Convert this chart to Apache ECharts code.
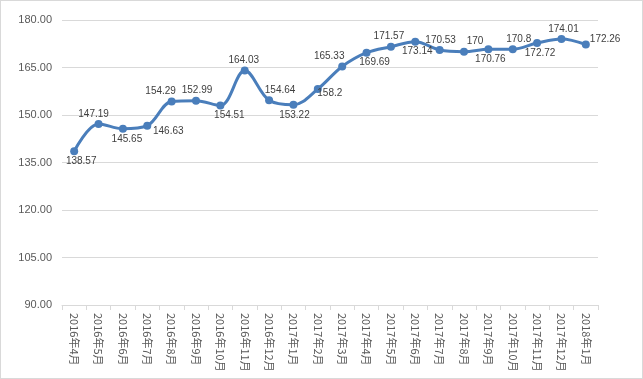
<!DOCTYPE html>
<html><head><meta charset="utf-8">
<script src="https://cdn.jsdelivr.net/npm/echarts@6/dist/echarts.min.js"></script>
<style>html,body{margin:0;padding:0;background:#fff}#c{width:641px;height:377px;border:1px solid #d9d9d9}</style>
</head><body><div id="c"></div>
<script>
const categories = ['2016年4月','2016年5月','2016年6月','2016年7月','2016年8月','2016年9月','2016年10月','2016年11月','2016年12月','2017年1月','2017年2月','2017年3月','2017年4月','2017年5月','2017年6月','2017年7月','2017年8月','2017年9月','2017年10月','2017年11月','2017年12月','2018年1月'];
const values = [138.57,147.19,145.65,146.63,154.29,154.51,152.99,164.03,154.64,153.22,158.2,165.33,169.69,171.57,173.14,170.53,170,170.76,170.8,172.72,174.01,172.26];
const labelTexts = ['138.57','147.19','145.65','146.63','154.29','152.99','154.51','164.03','154.64','153.22','158.2','165.33','169.69','171.57','173.14','170.53','170','170.76','170.8','172.72','174.01','172.26'];
const yTicks = [90,105,120,135,150,165,180];
// label placement per point: [position, dx, dy]
const place = [
 ['bottom',7,0],['top',-5,0],['bottom',4,0],['bottom',21,-4],['top',-11,0],['top',1,0],['bottom',9,0],
 ['top',-1,0],['top',11,0],['bottom',1,0],['bottom',12,-6],['top',-13,0],['bottom',8,0],['top',-2,0],
 ['bottom',2,0],['top',1,0],['top',11,0],['bottom',2,0],['top',6,0],['bottom',3,0],['top',2,0],['right',-1,-5]
];
const chart = echarts.init(document.getElementById('c'));
chart.setOption({
  animation:false,
  grid:{left:61,right:44,top:19,bottom:73},
  xAxis:{type:'category',data:categories,boundaryGap:true,
    axisLine:{lineStyle:{color:'#d9d9d9'}},
    axisTick:{show:true,length:5,lineStyle:{color:'#d9d9d9'}},
    axisLabel:{rotate:-90,interval:0,fontSize:11,color:'#595959',fontFamily:'Noto Sans CJK SC',margin:8}},
  yAxis:{type:'value',min:yTicks[0],max:yTicks[yTicks.length-1],interval:15,
    axisLine:{show:false},axisTick:{show:false},
    splitLine:{lineStyle:{color:'#d9d9d9'}},
    axisLabel:{fontSize:11,color:'#595959',fontFamily:'Liberation Sans',margin:10,formatter:v=>v.toFixed(2)}},
  series:[{type:'line',smooth:0.35,symbol:'circle',symbolSize:8,
    lineStyle:{color:'#4a7ebb',width:3},itemStyle:{color:'#4a7ebb'},
    data:values.map((v,i)=>({value:v,label:{show:true,position:place[i][0],offset:[place[i][1],place[i][2]],distance:1,formatter:labelTexts[i]}})),
    label:{fontSize:10,color:'#404040',fontFamily:'Liberation Sans'}
  }]
});
</script></body></html>
